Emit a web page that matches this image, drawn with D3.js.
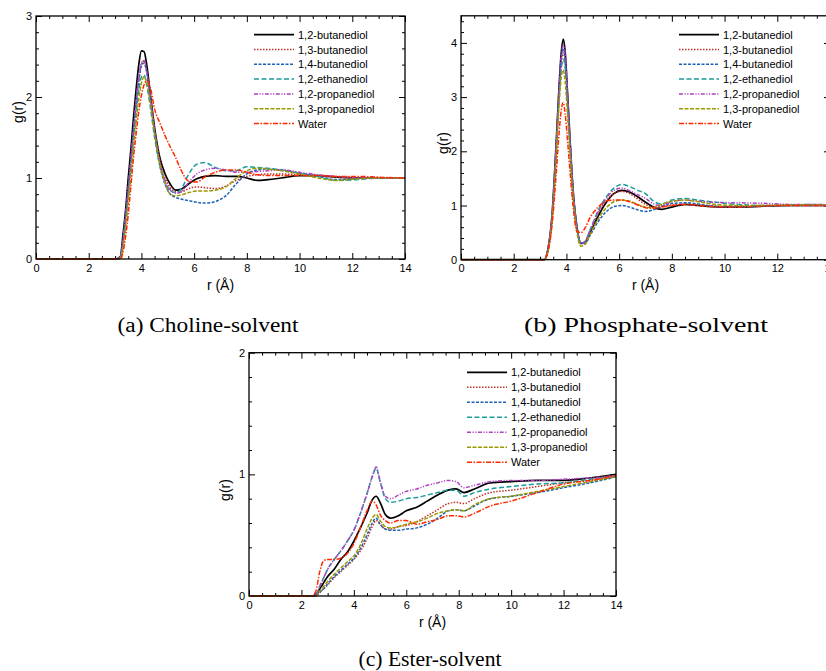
<!DOCTYPE html>
<html>
<head>
<meta charset="utf-8">
<script src="https://cdn.jsdelivr.net/npm/d3@7"></script>
<style>
  body { margin: 0; background: #fff; }
  svg { display: block; }
  .tick text { font-family: "Liberation Sans", Arial, sans-serif; font-size: 11px; }
</style>
</head>
<body>
<svg id="chart" width="826" height="671"></svg>
<script>
// series names (legend order) and their styles
const seriesNames = ["1,2-butanediol", "1,3-butanediol", "1,4-butanediol", "1,2-ethanediol",
  "1,2-propanediol", "1,3-propanediol", "Water"];

// (a) Choline-solvent
const cholineR = [0, 3.0, 3.2, 3.3, 3.4, 3.5, 3.6, 3.7, 3.8, 3.9, 4.0, 4.1, 4.2, 4.35, 4.5, 4.7, 4.9, 5.1,
  5.3, 5.5, 5.8, 6.1, 6.4, 6.8, 7.2, 7.6, 8.0, 8.4, 8.8, 9.3, 10, 10.7, 11.4, 12.2, 13, 14];
const cholineG = [
  [0,0,0.03,0.3,0.6,1.0,1.35,1.75,2.1,2.4,2.57,2.56,2.4,2.0,1.62,1.25,1.05,0.92,0.85,0.86,0.93,0.99,1.02,1.03,1.02,1.02,1.0,0.97,0.98,1.0,1.03,1.03,1.01,1.0,1.0,1.0],
  [0,0,0.02,0.22,0.5,0.85,1.2,1.58,1.92,2.22,2.4,2.45,2.33,1.98,1.6,1.22,1.0,0.88,0.83,0.83,0.87,0.89,0.88,0.87,0.9,0.97,1.02,1.04,1.05,1.05,1.04,1.03,1.01,1.0,1.0,1.0],
  [0,0,0.02,0.22,0.5,0.85,1.2,1.58,1.92,2.2,2.38,2.42,2.3,1.95,1.55,1.15,0.92,0.8,0.76,0.74,0.72,0.7,0.69,0.71,0.78,0.93,1.05,1.1,1.11,1.1,1.06,1.02,0.98,0.99,1.0,1.0],
  [0,0,0.02,0.2,0.45,0.8,1.12,1.48,1.8,2.08,2.25,2.27,2.15,1.85,1.5,1.15,0.95,0.84,0.82,0.86,1.05,1.17,1.19,1.13,1.09,1.09,1.14,1.13,1.12,1.1,1.06,1.02,0.97,0.98,1.0,1.0],
  [0,0,0.02,0.25,0.55,0.9,1.25,1.62,1.97,2.25,2.42,2.45,2.32,1.97,1.58,1.2,0.97,0.85,0.81,0.83,0.95,1.05,1.1,1.12,1.1,1.07,1.07,1.08,1.09,1.1,1.07,1.04,1.02,1.0,1.0,1.0],
  [0,0,0.01,0.15,0.38,0.7,1.02,1.38,1.7,1.98,2.17,2.25,2.18,1.9,1.55,1.17,0.93,0.8,0.78,0.79,0.82,0.84,0.84,0.85,0.89,1.0,1.09,1.12,1.11,1.09,1.05,1.0,0.97,0.99,1.0,1.0],
  [0,0,0,0.08,0.28,0.55,0.9,1.25,1.55,1.82,2.02,2.15,2.2,2.1,1.85,1.68,1.52,1.38,1.25,1.1,0.96,0.95,1.01,1.07,1.1,1.1,1.07,1.04,1.03,1.03,1.03,1.03,1.02,1.02,1.01,1.0]
];

// (b) Phosphate-solvent
const phosphateR = [0, 3.0, 3.15, 3.3, 3.45, 3.6, 3.7, 3.8, 3.88, 3.95, 4.05, 4.15, 4.25, 4.4, 4.55, 4.7, 4.9,
  5.2, 5.5, 5.8, 6.1, 6.4, 6.7, 7.0, 7.3, 7.6, 8.0, 8.5, 9.0, 9.5, 10.5, 11.5, 12.5, 13.5, 14];
const phosphateG = [
  [0,0,0,0.2,0.8,2.05,3.0,3.8,4.07,3.85,3.0,2.1,1.3,0.6,0.3,0.32,0.5,0.8,1.05,1.22,1.28,1.25,1.16,1.06,0.97,0.93,0.97,1.02,1.0,0.98,0.97,0.99,1.0,1.0,1.0],
  [0,0,0,0.18,0.75,1.9,2.85,3.6,3.82,3.65,2.9,2.05,1.28,0.6,0.3,0.33,0.53,0.85,1.08,1.22,1.26,1.22,1.12,1.02,0.97,0.98,1.01,1.02,1.01,0.99,0.98,1.0,1.0,1.0,1.0],
  [0,0,0,0.18,0.75,1.95,2.9,3.7,3.9,3.7,2.9,2.05,1.28,0.6,0.3,0.3,0.45,0.7,0.88,0.98,1.0,0.97,0.92,0.89,0.92,0.98,1.04,1.05,1.03,0.99,0.97,0.99,1.0,1.0,1.0],
  [0,0,0,0.18,0.75,1.9,2.8,3.5,3.7,3.55,2.85,2.0,1.25,0.6,0.3,0.33,0.55,0.9,1.15,1.32,1.39,1.35,1.28,1.22,1.08,1.03,1.1,1.13,1.1,1.07,1.02,1.0,1.01,1.02,1.0],
  [0,0,0,0.2,0.8,2.0,2.95,3.72,3.97,3.8,3.0,2.1,1.3,0.6,0.3,0.33,0.55,0.88,1.12,1.28,1.32,1.27,1.2,1.13,1.03,1.0,1.07,1.1,1.08,1.06,1.05,1.04,1.02,1.02,1.01],
  [0,0,0,0.15,0.7,1.8,2.7,3.35,3.5,3.3,2.6,1.85,1.15,0.5,0.25,0.28,0.47,0.75,0.95,1.07,1.1,1.08,1.02,0.97,0.96,1.02,1.08,1.1,1.07,1.03,1.0,1.0,1.01,1.01,1.0],
  [0,0,0,0.15,0.62,1.5,2.2,2.75,2.9,2.7,2.15,1.55,1.0,0.52,0.5,0.58,0.78,0.97,1.08,1.1,1.1,1.07,1.01,0.96,0.95,0.97,1.0,1.02,1.0,0.98,0.97,0.99,1.0,1.0,1.0]
];

// (c) Ester-solvent
const esterR = [0, 2.4, 2.55, 2.7, 2.85, 3.0, 3.25, 3.5, 3.75, 4.0, 4.25, 4.5, 4.7, 4.85, 5.0, 5.2, 5.4,
  5.7, 6.0, 6.4, 6.8, 7.2, 7.6, 7.9, 8.2, 8.6, 9.2, 10, 11, 12, 13, 14];
const esterG = [
  [0,0,0.01,0.06,0.11,0.16,0.22,0.3,0.36,0.45,0.56,0.68,0.79,0.82,0.77,0.67,0.64,0.66,0.7,0.73,0.78,0.83,0.87,0.88,0.85,0.88,0.93,0.94,0.95,0.95,0.97,1.0],
  [0,0,0,0.03,0.06,0.09,0.15,0.2,0.25,0.3,0.37,0.47,0.57,0.62,0.59,0.55,0.55,0.57,0.58,0.61,0.66,0.71,0.76,0.77,0.76,0.8,0.85,0.87,0.9,0.93,0.95,0.99],
  [0,0,0,0.03,0.06,0.1,0.16,0.21,0.26,0.31,0.39,0.5,0.6,0.64,0.59,0.55,0.54,0.54,0.55,0.56,0.59,0.64,0.7,0.71,0.7,0.74,0.8,0.82,0.85,0.89,0.93,0.98],
  [0,0,0.01,0.08,0.15,0.22,0.3,0.37,0.45,0.54,0.68,0.84,0.98,1.05,0.94,0.8,0.77,0.78,0.8,0.81,0.83,0.85,0.87,0.87,0.82,0.85,0.88,0.9,0.92,0.93,0.96,0.99],
  [0,0,0.01,0.08,0.15,0.22,0.3,0.37,0.45,0.54,0.68,0.84,0.98,1.06,0.95,0.82,0.8,0.83,0.86,0.88,0.91,0.93,0.95,0.94,0.89,0.91,0.94,0.95,0.95,0.96,0.97,0.99],
  [0,0,0,0.04,0.08,0.12,0.18,0.23,0.28,0.33,0.42,0.55,0.64,0.67,0.62,0.57,0.56,0.57,0.59,0.61,0.64,0.68,0.7,0.71,0.7,0.75,0.8,0.82,0.86,0.9,0.94,0.98],
  [0,0,0.04,0.2,0.29,0.3,0.3,0.31,0.35,0.43,0.56,0.7,0.78,0.75,0.67,0.62,0.6,0.62,0.62,0.59,0.61,0.63,0.66,0.66,0.65,0.68,0.74,0.78,0.85,0.92,0.95,0.99]
];

const colors = ["#000000", "#c0302a", "#1f62b4", "#1a9c9c", "#b040c0", "#9a9a00", "#ff2a00"];
const dashes = ["none", "1.5,1.5", "3,1.5", "5,2.5", "4,1.5,1.2,1.5,1.2,1.5", "4,1.5", "5,1.5,1.5,1.5"];
const widths = [1.7, 1.5, 1.5, 1.5, 1.5, 1.5, 1.5];

const panels = [
  { r: cholineR, g: cholineG, left: 36, right: 405, top: 16, bottom: 259, yMax: 3,
    legX: 254, legY: 34.7, legDy: 14.8, yTitleX: 23, yTitleY: 112, xTitleY: 290,
    caption: "(a) Choline-solvent", capX: 208, capY: 332, capW: 181 },
  { r: phosphateR, g: phosphateG, left: 461, right: 830, top: 15.8, bottom: 259.7, yMax: 4.5,
    legX: 679, legY: 34.7, legDy: 14.8, yTitleX: 448, yTitleY: 143, xTitleY: 290,
    caption: "(b) Phosphate-solvent", capX: 646, capY: 332, capW: 244 },
  { r: esterR, g: esterG, left: 249, right: 616, top: 352.7, bottom: 596, yMax: 2,
    legX: 467, legY: 372.3, legDy: 15, yTitleX: 230, yTitleY: 490, xTitleY: 627,
    caption: "(c) Ester-solvent", capX: 430, capY: 666, capW: 143 }
];

const svg = d3.select("#chart");
svg.append("rect").attr("width", 826).attr("height", 671).attr("fill", "#fff");

panels.forEach(p => {
  const x = d3.scaleLinear().domain([0, 14]).range([p.left, p.right]);
  const y = d3.scaleLinear().domain([0, p.yMax]).range([p.bottom, p.top]);

  const xMajor = d3.range(0, 14.01, 2);
  const xMinor = d3.range(0, 14.01, 0.5).filter(v => v % 2 !== 0);
  const yMajor = d3.range(0, p.yMax + 0.01, 1);
  const yMinor = d3.range(0, p.yMax + 0.01, 0.2).filter(v => Math.abs(v - Math.round(v)) > 0.01);

  const g = svg.append("g");

  // ticks, pointing inward on all four sides
  const axes = [
    [() => d3.axisBottom(x), `translate(0,${p.bottom})`, xMajor, xMinor, true, 5],
    [() => d3.axisTop(x), `translate(0,${p.top})`, xMajor, xMinor, false, 5],
    [() => d3.axisLeft(y), `translate(${p.left},0)`, yMajor, yMinor, true, 4],
    [() => d3.axisRight(y), `translate(${p.right},0)`, yMajor, yMinor, false, 4]
  ];
  axes.forEach(([mk, tr, major, minor, labels, pad]) => {
    g.append("g").attr("transform", tr)
      .call(mk().tickValues(major).tickSize(-6).tickPadding(pad)
        .tickFormat(labels ? d3.format("d") : ""))
      .call(s => s.select(".domain").remove())
      .call(s => s.selectAll("line").attr("stroke", "#000").attr("stroke-width", 1));
    g.append("g").attr("transform", tr)
      .call(mk().tickValues(minor).tickSize(-3).tickFormat(""))
      .call(s => s.select(".domain").remove())
      .call(s => s.selectAll("line").attr("stroke", "#000").attr("stroke-width", 1));
  });
  g.selectAll(".tick text").attr("fill", "#000");

  // curves
  const line = d3.line()
    .x((d, i) => x(p.r[i]))
    .y(d => y(d))
    .curve(d3.curveMonotoneX);

  p.g.forEach((vals, k) => {
    g.append("path")
      .attr("d", line(vals))
      .attr("fill", "none")
      .attr("stroke", colors[k])
      .attr("stroke-width", widths[k])
      .attr("stroke-dasharray", dashes[k] === "none" ? null : dashes[k]);
  });

  // frame
  g.append("rect")
    .attr("x", p.left).attr("y", p.top)
    .attr("width", p.right - p.left).attr("height", p.bottom - p.top)
    .attr("fill", "none").attr("stroke", "#000").attr("stroke-width", 1.3);

  // legend
  seriesNames.forEach((name, k) => {
    const ly = p.legY + k * p.legDy;
    g.append("line")
      .attr("x1", p.legX).attr("x2", p.legX + 40)
      .attr("y1", ly).attr("y2", ly)
      .attr("stroke", colors[k])
      .attr("stroke-width", widths[k])
      .attr("stroke-dasharray", dashes[k] === "none" ? null : dashes[k]);
    g.append("text")
      .attr("x", p.legX + 44).attr("y", ly + 4)
      .attr("font-family", "Liberation Sans, Arial, sans-serif")
      .attr("font-size", 11)
      .text(name);
  });

  // axis titles
  g.append("text")
    .attr("x", (p.left + p.right) / 2).attr("y", p.xTitleY)
    .attr("text-anchor", "middle")
    .attr("font-family", "Liberation Sans, Arial, sans-serif")
    .attr("font-size", 14)
    .text("r (Å)");
  g.append("text")
    .attr("transform", `translate(${p.yTitleX},${p.yTitleY}) rotate(-90)`)
    .attr("text-anchor", "middle")
    .attr("font-family", "Liberation Sans, Arial, sans-serif")
    .attr("font-size", 14)
    .text("g(r)");

  // caption
  svg.append("text")
    .attr("x", p.capX - p.capW / 2).attr("y", p.capY)
    .attr("textLength", p.capW)
    .attr("lengthAdjust", "spacingAndGlyphs")
    .attr("font-family", "Liberation Serif, serif")
    .attr("font-size", 20)
    .text(p.caption);
});
</script>
</body>
</html>
